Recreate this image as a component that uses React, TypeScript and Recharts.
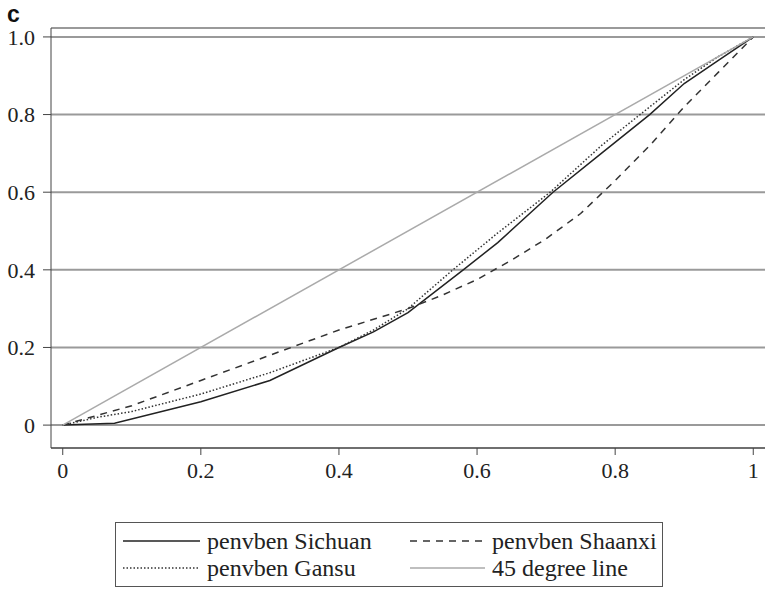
import React from "react";
import { LineChart, Line, XAxis, YAxis, CartesianGrid } from "recharts";

// cumulative population share (x) vs cumulative benefit share (y)
const sichuanX = [0, 0.075, 0.2, 0.3, 0.4, 0.45, 0.5, 0.58, 0.63, 0.71, 0.78, 0.85, 0.9, 0.95, 1];
const sichuanY = [0, 0.005, 0.06, 0.115, 0.2, 0.24, 0.29, 0.4, 0.47, 0.6, 0.7, 0.8, 0.88, 0.94, 1];

const shaanxiX = [0, 0.1, 0.2, 0.3, 0.4, 0.5, 0.55, 0.6, 0.65, 0.7, 0.75, 0.8, 0.85, 0.9, 0.95, 1];
const shaanxiY = [0, 0.05, 0.115, 0.18, 0.245, 0.3, 0.335, 0.375, 0.425, 0.48, 0.545, 0.63, 0.72, 0.82, 0.91, 1];

const gansuX = [0, 0.05, 0.1, 0.2, 0.3, 0.4, 0.45, 0.5, 0.565, 0.63, 0.706, 0.78, 0.836, 0.9, 0.95, 1];
const gansuY = [0, 0.02, 0.035, 0.08, 0.135, 0.2, 0.245, 0.3, 0.4, 0.495, 0.6, 0.72, 0.8, 0.89, 0.95, 1];

const diagX = [0, 1];
const diagY = [0, 1];

const xTicks = [0, 0.2, 0.4, 0.6, 0.8, 1];
const yTicks = [0, 0.2, 0.4, 0.6, 0.8, 1];

const toPoints = (xs: number[], ys: number[]) => xs.map((x, i) => ({ x, y: ys[i] }));

const series = [
  { name: "penvben Sichuan", data: toPoints(sichuanX, sichuanY), stroke: "#222", dash: undefined as string | undefined },
  { name: "penvben Shaanxi", data: toPoints(shaanxiX, shaanxiY), stroke: "#333", dash: "7 6" },
  { name: "penvben Gansu", data: toPoints(gansuX, gansuY), stroke: "#333", dash: "1.5 2" },
  { name: "45 degree line", data: toPoints(diagX, diagY), stroke: "#aaa", dash: undefined },
];

const serif = "Liberation Serif, DejaVu Serif, serif";

function LegendItem({ s, lineW, lead }: { s: (typeof series)[number]; lineW: number; lead: number }) {
  return (
    <div style={{ display: "flex", alignItems: "center", height: 27, paddingLeft: lead }}>
      <svg width={lineW} height={10} style={{ marginRight: 7 }}>
        <line x1={0} y1={5} x2={lineW} y2={5} stroke={s.stroke} strokeWidth={1.5} strokeDasharray={s.dash} />
      </svg>
      <span style={{ whiteSpace: "nowrap" }}>{s.name}</span>
    </div>
  );
}

export default function App() {
  return (
    <div style={{ position: "absolute", left: 0, top: 0, width: 765, height: 589, background: "#fff" }}>
      <svg width={40} height={30} style={{ position: "absolute", left: 0, top: 0 }}>
        <text x={7} y={22} fontFamily="Liberation Sans, Arial, sans-serif" fontWeight={700} fontSize={23} fill="#111">
          c
        </text>
      </svg>
      <LineChart width={765} height={589} margin={{ top: 28, right: 0, bottom: 111, left: 0 }}>
        <CartesianGrid vertical={false} stroke="#9a9a9a" strokeWidth={2} />
        <XAxis
          type="number"
          dataKey="x"
          domain={[-0.017, 1.017]}
          ticks={xTicks}
          allowDataOverflow
          height={30}
          tickSize={7}
          tickMargin={7}
          tickFormatter={(v: number) => (v === 0 || v === 1 ? String(v) : v.toFixed(1))}
          stroke="#444"
          tick={{ fill: "#222", fontSize: 22, fontFamily: serif }}
        />
        <YAxis
          type="number"
          dataKey="y"
          domain={[-0.059, 1.023]}
          ticks={yTicks}
          allowDataOverflow
          width={51}
          tickSize={8}
          tickMargin={8}
          tickFormatter={(v: number) => (v === 0 ? "0" : v.toFixed(1))}
          stroke="#444"
          tick={{ fill: "#222", fontSize: 22, fontFamily: serif }}
        />
        {series.map((s) => (
          <Line
            key={s.name}
            data={s.data}
            dataKey="y"
            type="linear"
            stroke={s.stroke}
            strokeWidth={1.5}
            strokeDasharray={s.dash}
            dot={false}
            isAnimationActive={false}
          />
        ))}
      </LineChart>
      <div
        style={{
          position: "absolute",
          left: 115,
          top: 522,
          width: 548,
          height: 65,
          boxSizing: "border-box",
          border: "1.5px solid #555",
          fontFamily: serif,
          fontSize: 24,
          color: "#222",
          display: "grid",
          gridTemplateColumns: "287px 1fr",
          alignContent: "center",
          lineHeight: "27px",
        }}
      >
        <LegendItem s={series[0]} lineW={77} lead={7} />
        <LegendItem s={series[1]} lineW={75} lead={7} />
        <LegendItem s={series[2]} lineW={77} lead={7} />
        <LegendItem s={series[3]} lineW={75} lead={7} />
      </div>
    </div>
  );
}
